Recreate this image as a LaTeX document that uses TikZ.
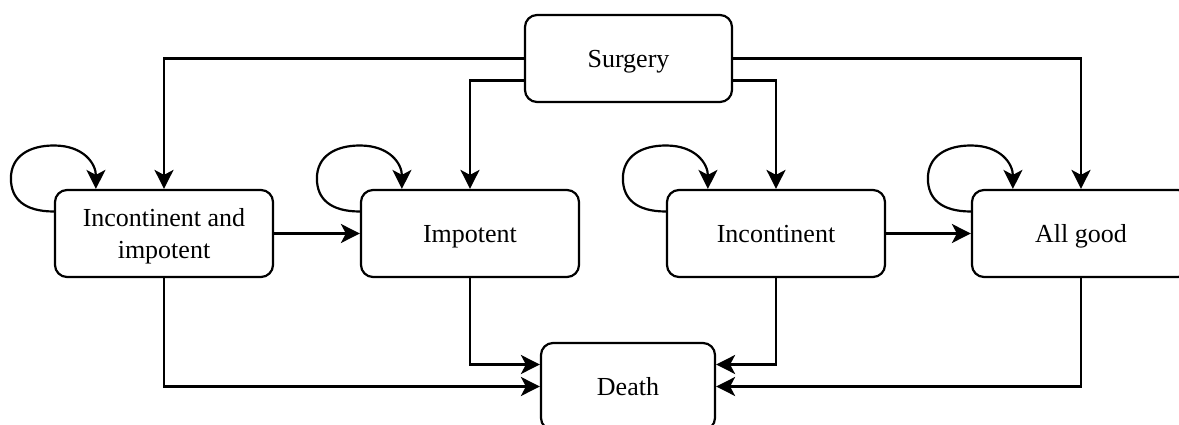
\documentclass[tikz,border=0pt]{standalone}
\usepackage{fontspec}
\setmainfont{Liberation Serif}
\usetikzlibrary{arrows.meta,calc}
\begin{document}
\begin{tikzpicture}[x=1pt,y=-1pt,
  state/.style={draw,line width=2.2pt,rounded corners=12pt,minimum width=218pt,minimum height=87pt,
    align=center,inner sep=0pt,text depth=0pt,font=\fontsize{26}{31.5}\selectfont},
  arr/.style={line width=2.2pt,-{Stealth[length=19pt,width=19pt,inset=5pt]}}]
\useasboundingbox (0,0) rectangle (1179,425);
\node[state,minimum width=207pt] (s) at (628.5,58.5) {Surgery};
\node[state] (a) at (164,233.5) {Incontinent and\\impotent};
\node[state] (b) at (470,233.5) {Impotent};
\node[state] (c) at (776,233.5) {Incontinent};
\node[state] (d) at (1081,233.5) {All good};
\node[state,minimum width=174pt] (e) at (628,386.5) {Death};
% from surgery
\draw[arr] (s.west) -| (a.north);
\draw[arr] ([yshift=-22pt]s.west) -| (b.north);
\draw[arr] (s.east) -| (d.north);
\draw[arr] ([yshift=-22pt]s.east) -| (c.north);
% horizontal
\draw[arr] (a.east) -- (b.west);
\draw[arr] (c.east) -- (d.west);
% to death
\draw[arr] (a.south) |- (e.west);
\draw[arr] (b.south) |- ([yshift=22pt]e.west);
\draw[arr] (c.south) |- ([yshift=22pt]e.east);
\draw[arr] (d.south) |- (e.east);
% self loops
\foreach \n in {a,b,c,d}{
  \draw[arr] ([yshift=22pt]\n.west) .. controls +(-30pt,0pt) and +(0pt,-20pt) ..
    ([shift={(-43pt,55pt)}]\n.west) .. controls +(0pt,22pt) and +(-25pt,0pt) ..
    ([shift={(0pt,88pt)}]\n.west) .. controls +(30pt,0pt) and +(0pt,25pt) ..
    ([xshift=42pt]\n.north west);
}
\end{tikzpicture}
\end{document}
